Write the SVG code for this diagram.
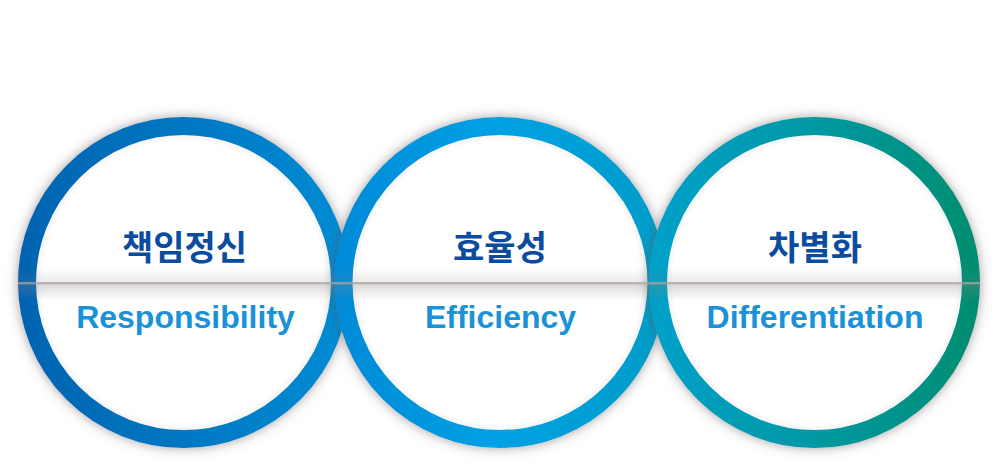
<svg xmlns="http://www.w3.org/2000/svg" width="1000" height="469" viewBox="0 0 1000 469">
<style>
.ring{fill:none;stroke-width:18}
.inner{fill:url(#innerG)}
.ko{font-family:"Noto Sans CJK KR","Noto Sans",sans-serif;font-weight:700;font-size:34px;fill:#0c4c9f;text-anchor:middle}
.en{font-family:"Liberation Sans",Arial,sans-serif;font-weight:700;font-size:32px;fill:#1b92d7;text-anchor:middle}
</style>
<defs>
<filter id="sh" x="-20%" y="-20%" width="140%" height="140%">
<feDropShadow dx="0" dy="0" stdDeviation="6" flood-color="#5a5050" flood-opacity="0.55"/>
</filter>
<radialGradient id="innerG" cx="0.5" cy="0.5" r="0.5">
<stop offset="0.94" stop-color="#ffffff"/>
<stop offset="1" stop-color="#f1efef"/>
</radialGradient>
<linearGradient id="g1" x1="0" y1="0" x2="1" y2="0">
<stop offset="0" stop-color="#0064b1"/>
<stop offset="1" stop-color="#008bd3"/>
</linearGradient>
<linearGradient id="g2" x1="0" y1="0" x2="1" y2="0">
<stop offset="0" stop-color="#008bd8"/>
<stop offset="0.5" stop-color="#00a1e4"/>
<stop offset="1" stop-color="#009dc8"/>
</linearGradient>
<linearGradient id="g3" x1="0" y1="0" x2="1" y2="0">
<stop offset="0" stop-color="#00a0c8"/>
<stop offset="0.5" stop-color="#0098a4"/>
<stop offset="1" stop-color="#008e72"/>
</linearGradient>
<linearGradient id="above" x1="0" y1="0" x2="0" y2="1">
<stop offset="0" stop-color="#8a8080" stop-opacity="0"/>
<stop offset="1" stop-color="#8a8080" stop-opacity="0.16"/>
</linearGradient>
<linearGradient id="below" x1="0" y1="0" x2="0" y2="1">
<stop offset="0" stop-color="#8a8080" stop-opacity="0.3"/>
<stop offset="1" stop-color="#8a8080" stop-opacity="0"/>
</linearGradient>
<clipPath id="cu">
<circle cx="183.5" cy="282.5" r="165.5"/>
<circle cx="500" cy="282.5" r="165.5"/>
<circle cx="814.5" cy="282.5" r="165.5"/>
</clipPath>
</defs>
<rect width="1000" height="469" fill="#ffffff"/>
<g id="node-responsibility" filter="url(#sh)">
<circle class="inner" cx="183.5" cy="282.5" r="150"/>
<circle class="ring" cx="183.5" cy="282.5" r="156.5" stroke="url(#g1)"/>
</g>
<g id="node-efficiency" filter="url(#sh)">
<circle class="inner" cx="500" cy="282.5" r="150"/>
<circle class="ring" cx="500" cy="282.5" r="156.5" stroke="url(#g2)"/>
</g>
<g id="node-differentiation" filter="url(#sh)">
<circle class="inner" cx="814.5" cy="282.5" r="150"/>
<circle class="ring" cx="814.5" cy="282.5" r="156.5" stroke="url(#g3)"/>
</g>
<g id="fold" clip-path="url(#cu)">
<rect x="0" y="268" width="1000" height="14" fill="url(#above)"/>
<rect x="0" y="282" width="1000" height="2.5" fill="#a8a0a0" fill-opacity="0.8"/>
<rect x="0" y="284.5" width="1000" height="16" fill="url(#below)"/>
</g>
<g id="labels">
<text class="ko" x="184.5" y="259.5">책임정신</text>
<text class="en" x="185.5" y="328">Responsibility</text>
<text class="ko" x="500" y="259.5">효율성</text>
<text class="en" x="500.5" y="328">Efficiency</text>
<text class="ko" x="815" y="259.5">차별화</text>
<text class="en" x="815" y="328">Differentiation</text>
</g>
<g id="connectors"></g>
</svg>
